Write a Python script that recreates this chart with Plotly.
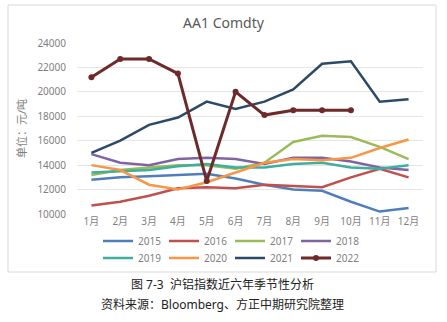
import plotly.graph_objects as go

months = ["1月", "2月", "3月", "4月", "5月", "6月", "7月", "8月", "9月", "10月", "11月", "12月"]

y2015 = [12800, 13000, 13100, 13200, 13300, 12900, 12400, 12000, 11900, 11000, 10200, 10500]
y2016 = [10700, 11000, 11500, 12100, 12200, 12100, 12400, 12300, 12200, 13000, 13700, 13000]
y2017 = [13200, 13600, 13800, 14000, 14000, 13700, 14200, 15900, 16400, 16300, 15500, 14500]
y2018 = [14900, 14200, 14000, 14500, 14600, 14500, 14100, 14600, 14600, 14300, 13800, 13600]
y2019 = [13400, 13500, 13600, 13900, 14100, 13800, 13800, 14100, 14200, 13800, 13700, 14000]
y2020 = [14000, 13600, 12400, 12000, 12600, 13400, 14200, 14500, 14400, 14600, 15400, 16100]
y2021 = [15000, 16000, 17300, 17900, 19200, 18600, 19200, 20200, 22300, 22500, 19200, 19400]
y2022 = [21200, 22700, 22700, 21500, 12700, 20000, 18100, 18500, 18500, 18500]

names = ["2015", "2016", "2017", "2018", "2019", "2020", "2021", "2022"]
series = [y2015, y2016, y2017, y2018, y2019, y2020, y2021, y2022]
colors = ["#4F7FBB", "#C0504D", "#9BBB59", "#8064A2", "#3FAE9C", "#F79646", "#2C4A68", "#6E2A2A"]

FONT = "Noto Sans, Noto Sans CJK SC, sans-serif"

fig = go.Figure()
for i, (n, ys, c) in enumerate(zip(names, series, colors)):
    is22 = n == "2022"
    fig.add_trace(go.Scatter(
        x=months[:len(ys)], y=ys, name=n,
        mode="lines+markers" if is22 else "lines",
        line=dict(color=c, width=3 if is22 else 2.5),
        marker=dict(size=6, color=c),
        legend="legend" if i < 4 else "legend2",
    ))

W, H = 447, 322
L, R, T, B = 77, 24, 43, 108

def px_to_paper_y(py):
    return (H - B - py) / (H - B - T)

def px_to_paper_x(px):
    return (px - L) / (W - L - R)

leg_common = dict(
    orientation="h", xref="container", yref="container",
    xanchor="left", yanchor="middle",
    font=dict(family=FONT, size=10, color="#7F7F7F"),
    bgcolor="rgba(0,0,0,0)", entrywidth=21, entrywidthmode="pixels",
    itemwidth=30, tracegroupgap=0,
)

fig.update_layout(
    width=W, height=H,
    margin=dict(l=L, r=R, t=T, b=B, autoexpand=False),
    paper_bgcolor="white", plot_bgcolor="white",
    title=dict(text="AA1 Comdty", x=0.5, xref="container", y=1 - 23 / H, yref="container",
               xanchor="center", yanchor="middle",
               font=dict(family=FONT, size=14, color="#595959")),
    xaxis=dict(type="category", range=[-0.5, 11.5], showgrid=False, showline=False, zeroline=False,
               ticks="", tickfont=dict(family=FONT, size=10, color="#7F7F7F")),
    yaxis=dict(range=[10000, 24000], dtick=2000, tickformat="d", showgrid=True, gridcolor="#E5E5E5", gridwidth=1,
               zeroline=False, showline=False, ticks="", ticklabelstandoff=10,
               tickfont=dict(family=FONT, size=10, color="#7F7F7F"),
               title=dict(text="单位：元/吨", standoff=8,
                          font=dict(family=FONT, size=11, color="#7F7F7F"))),
    legend=dict(x=98 / W, y=1 - 241 / H, **leg_common),
    legend2=dict(x=98 / W, y=1 - 258 / H, **leg_common),
    showlegend=True,
)

fig.add_shape(type="rect", xref="paper", yref="paper",
              x0=px_to_paper_x(8), x1=px_to_paper_x(436),
              y0=px_to_paper_y(272), y1=px_to_paper_y(5),
              line=dict(color="#D9D9D9", width=1), fillcolor="rgba(0,0,0,0)", layer="below")

fig.add_annotation(text="图 7-3  沪铝指数近六年季节性分析", xref="paper", yref="paper",
                   x=px_to_paper_x(222), y=px_to_paper_y(284), showarrow=False,
                   xanchor="center", yanchor="middle",
                   font=dict(family=FONT, size=12, color="#222222"))
fig.add_annotation(text="资料来源：Bloomberg、方正中期研究院整理", xref="paper", yref="paper",
                   x=px_to_paper_x(222), y=px_to_paper_y(304), showarrow=False,
                   xanchor="center", yanchor="middle",
                   font=dict(family=FONT, size=12, color="#222222"))

fig.write_html("out.html")
